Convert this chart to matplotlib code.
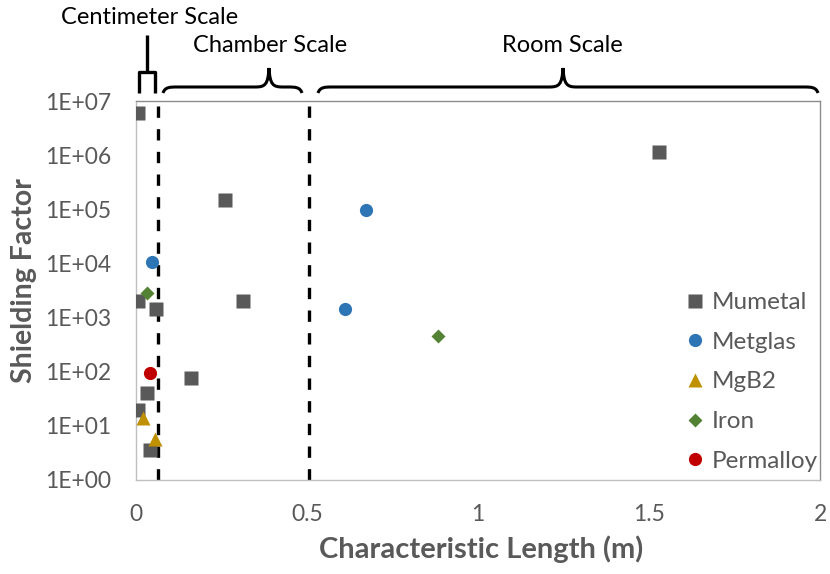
import math
import matplotlib
matplotlib.use("Agg")
import matplotlib.pyplot as plt
from matplotlib.path import Path
from matplotlib.patches import PathPatch
from matplotlib.lines import Line2D
from matplotlib.ticker import FixedLocator, FuncFormatter

plt.rcParams['font.family'] = ['Lato', 'DejaVu Sans']

# ---- data ----
mumetal_x = [0.007, 0.26, 0.005, 0.058, 0.312, 0.161, 0.032, 0.005, 0.041, 1.53]
mumetal_y = [5.9e6, 1.5e5, 2050, 1420, 2000, 78, 40, 19.5, 3.6, 1.15e6]
metglas_x = [0.046, 0.672, 0.611]
metglas_y = [1.05e4, 9.6e4, 1420]
mgb2_x = [0.021, 0.056]
mgb2_y = [14, 5.6]
iron_x = [0.033, 0.882]
iron_y = [2900, 450]
permalloy_x = [0.041]
permalloy_y = [95]

boundaries = [0.065, 0.505]
x_ticks = [0, 0.5, 1, 1.5, 2]
x_tick_labels = ["0", "0.5", "1", "1.5", "2"]
y_exponents = [0, 1, 2, 3, 4, 5, 6, 7]

W, H = 830, 574
fig = plt.figure(figsize=(W / 100, H / 100), dpi=100)
L, R, T, B = 136, 820, 101, 480
ax = fig.add_axes([L / W, 1 - B / H, (R - L) / W, (B - T) / H])

gray = '#595959'
ax.set_yscale('log')
ax.set_xlim(0, 2)
ax.set_ylim(1, 1e7)

for xv in boundaries:
    ax.axvline(xv, color='black', lw=2.4, linestyle=(0, (3.4, 3.4)), zorder=2)

ms = 9.5
ax.plot(mumetal_x, mumetal_y, 's', color='#595959', ms=ms, label='Mumetal', zorder=3, mec='none')
ax.plot(metglas_x, metglas_y, 'o', color='#2e75b6', ms=ms, label='Metglas', zorder=3, mec='none')
ax.plot(mgb2_x, mgb2_y, '^', color='#bf9000', ms=ms, label='MgB2', zorder=3, mec='none')
ax.plot(iron_x, iron_y, 'D', color='#548235', ms=ms * 0.8, label='Iron', zorder=3, mec='none')
ax.plot(permalloy_x, permalloy_y, 'o', color='#c00000', ms=ms, label='Permalloy', zorder=3, mec='none')

ax.xaxis.set_major_locator(FixedLocator(x_ticks))
ax.set_xticklabels(x_tick_labels)
ax.yaxis.set_major_locator(FixedLocator([10.0 ** e for e in y_exponents]))
ax.yaxis.set_minor_locator(FixedLocator([]))
ax.yaxis.set_major_formatter(FuncFormatter(lambda v, p: "1E+%02d" % round(math.log10(v))))
ax.tick_params(axis='both', length=0, labelsize=16.5, colors=gray)
ax.tick_params(axis='y', pad=18)
ax.tick_params(axis='x', pad=17)

for s in ax.spines.values():
    s.set_color('#bfbfbf')
    s.set_linewidth(1)
ax.spines['top'].set_color('#8c8c8c')
ax.spines['right'].set_color('#8c8c8c')

ax.set_xlabel('Characteristic Length (m)', fontsize=21, fontweight='bold', color=gray)
ax.set_ylabel('Shielding Factor', fontsize=20.5, fontweight='bold', color=gray)
ax.xaxis.set_label_coords(((315 + 647) / 2 - L) / (R - L), (B - 549) / (B - T))
ax.yaxis.set_label_coords((24 - L) / (R - L), (B - 281) / (B - T))
ax.xaxis.label.set_va('center')
ax.yaxis.label.set_va('center')

leg = ax.legend(loc='upper right', bbox_to_anchor=(818 / W, 1 - 292 / H), bbox_transform=fig.transFigure,
                frameon=False, fontsize=17.5, handlelength=0.7, handletextpad=0.35, labelspacing=0.77,
                borderpad=0, borderaxespad=0)
for t in leg.get_texts():
    t.set_color(gray)

# ---- annotations (figure pixel coordinates) ----
def fx(x):
    return x / W

def fy(y):
    return 1 - y / H

def brace(x0, x1, xp, yb=93, yf=87, yp=68, r=14):
    pts = [
        (x0, yb), (x0 + 2, yf), (x0 + r * 0.5, yf), (x0 + r, yf),
        (xp - r, yf),
        (xp - 4, yf), (xp - 1, yf - 2), (xp, yp),
        (xp + 1, yf - 2), (xp + 4, yf), (xp + r, yf),
        (x1 - r, yf),
        (x1 - r * 0.5, yf), (x1 - 2, yf), (x1, yb),
    ]
    codes = [Path.MOVETO, Path.CURVE4, Path.CURVE4, Path.CURVE4,
             Path.LINETO,
             Path.CURVE4, Path.CURVE4, Path.CURVE4,
             Path.CURVE4, Path.CURVE4, Path.CURVE4,
             Path.LINETO,
             Path.CURVE4, Path.CURVE4, Path.CURVE4]
    verts = [(fx(a), fy(b)) for a, b in pts]
    patch = PathPatch(Path(verts, codes), facecolor='none', edgecolor='black', lw=2.2,
                      transform=fig.transFigure, clip_on=False)
    fig.add_artist(patch)

brace(163, 302, 269)
brace(318, 818, 563)

# centimeter bracket
def seg(xs, ys):
    fig.add_artist(Line2D([fx(v) for v in xs], [fy(v) for v in ys], color='black', lw=2.4,
                          solid_joinstyle='round', solid_capstyle='butt'))

seg([146.7, 146.7], [35, 72])
seg([138.5, 138.5, 155, 155], [93, 72, 72, 93])

fig.text(fx(150), fy(18), 'Centimeter Scale', fontsize=17, ha='center', va='center', color='black')
fig.text(fx(270), fy(45), 'Chamber Scale', fontsize=17, ha='center', va='center', color='black')
fig.text(fx(562), fy(45), 'Room Scale', fontsize=17, ha='center', va='center', color='black')

fig.savefig('out.png', dpi=100)
